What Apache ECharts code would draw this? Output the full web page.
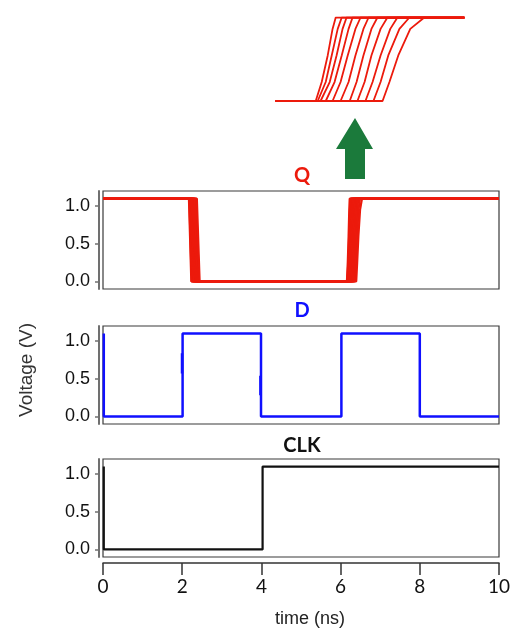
<!DOCTYPE html>
<html><head><meta charset="utf-8">
<script src="https://cdn.jsdelivr.net/npm/echarts@6/dist/echarts.min.js"></script>
<style>html,body{margin:0;padding:0;background:#fff}#c{width:511px;height:628px}</style>
</head><body><div id="c"></div>
<script>
// ---- data ----
const timeTicks = [0, 2, 4, 6, 8, 10];
const voltTicks = [0, 0.5, 1.0];
const panelTitles = ['Q', 'D', 'CLK'];
const axisTitles = ['time (ns)', 'Voltage (V)'];

// Q: Monte-Carlo traces (one entry per trace)
const qHigh = 1.1;
const qLow = 0;
const qFallStart = [2.17, 2.18, 2.20, 2.22, 2.24, 2.26, 2.28, 2.30, 2.32, 2.35, 2.37];
const qFallEnd   = [2.23, 2.24, 2.26, 2.28, 2.30, 2.33, 2.35, 2.37, 2.39, 2.42, 2.44];
const qRiseLevels = [0, 0.25, 0.6, 0.95, 1.1];
const qRiseTimes = [
  [6.160, 6.181, 6.202, 6.219, 6.230],
  [6.167, 6.195, 6.216, 6.237, 6.251],
  [6.177, 6.209, 6.233, 6.254, 6.268],
  [6.195, 6.226, 6.251, 6.275, 6.289],
  [6.219, 6.247, 6.272, 6.299, 6.317],
  [6.247, 6.275, 6.299, 6.327, 6.345],
  [6.279, 6.303, 6.327, 6.355, 6.376],
  [6.306, 6.331, 6.355, 6.387, 6.411],
  [6.334, 6.359, 6.387, 6.421, 6.446],
  [6.362, 6.387, 6.414, 6.453, 6.488],
  [6.394, 6.418, 6.449, 6.491, 6.540]
];
const insetRange = [6.02, 6.68];

// D input
const dTimes  = [0.02, 0.02, 2.01, 2.01, 3.99, 3.99, 6.02, 6.02, 8.00, 8.00, 10];
const dValues = [1.1,  0,    0,    1.1,  1.1,  0,    0,    1.1,  1.1,  0,    0];
const dGlitchTimes = [1.995, 3.975];
const dGlitchLow   = [0.57, 0.28];
const dGlitchHigh  = [0.84, 0.54];

// CLK
const clkTimes  = [0.02, 0.02, 4.03, 4.03, 10];
const clkValues = [1.1,  0,    0,    1.1,  1.1];

// ---- build ----
const RED = '#ec1a0c', BLUE = '#1010ff', BLACK = '#111111';
const zip = (xs, ys) => xs.map((x, i) => [x, ys[i]]);

const series = [];
qRiseTimes.forEach((rt, k) => {
  const rise = zip(rt, qRiseLevels);
  series.push({
    name: 'Q', type: 'line', xAxisIndex: 1, yAxisIndex: 1, symbol: 'none', silent: true,
    lineStyle: { color: RED, width: 2.2 },
    data: [[0, qHigh], [qFallStart[k], qHigh], [qFallEnd[k], qLow]].concat(rise, [[10, qHigh]])
  });
  series.push({
    name: 'Q inset', type: 'line', xAxisIndex: 0, yAxisIndex: 0, symbol: 'none', silent: true,
    lineStyle: { color: RED, width: 1.8 },
    data: [[insetRange[0], qLow]].concat(rise, [[insetRange[1], qHigh]])
  });
});
series.push({
  name: 'D', type: 'line', xAxisIndex: 2, yAxisIndex: 2, symbol: 'none',
  lineStyle: { color: BLUE, width: 2.5 }, data: zip(dTimes, dValues)
});
const glitchData = [];
dGlitchTimes.forEach((t, i) => { glitchData.push([t, dGlitchLow[i]], [t, dGlitchHigh[i]], '-'); });
series.push({
  name: 'D glitch', type: 'line', xAxisIndex: 2, yAxisIndex: 2, symbol: 'none', connectNulls: false,
  lineStyle: { color: BLUE, width: 2.5 }, data: glitchData
});
series.push({
  name: 'CLK', type: 'line', xAxisIndex: 3, yAxisIndex: 3, symbol: 'none',
  lineStyle: { color: BLACK, width: 2.2 }, data: zip(clkTimes, clkValues)
});

const gridTops = [191, 326, 459];
const grids = [{ left: 270, top: 17.5, width: 200, height: 83.5, outerBoundsMode: 'none', containLabel: false }];
gridTops.forEach(t => grids.push({
  left: 103, top: t, width: 396, height: 98, show: true, outerBoundsMode: 'none', containLabel: false,
  borderColor: '#3a3a3a', borderWidth: 1.2, backgroundColor: 'transparent'
}));

const xAxes = [
  { gridIndex: 0, type: 'value', min: insetRange[0] - 0.02, max: insetRange[0] + 0.68, show: false },
  { gridIndex: 1, type: 'value', min: 0, max: 10, show: false },
  { gridIndex: 2, type: 'value', min: 0, max: 10, show: false },
  {
    gridIndex: 3, type: 'value', min: timeTicks[0], max: timeTicks[timeTicks.length - 1], interval: 2, offset: 6,
    axisLine: { onZero: false, lineStyle: { color: '#333', width: 1.5 } },
    axisTick: { length: 12, lineStyle: { color: '#333', width: 1.5 } },
    axisLabel: { margin: 14, fontFamily: 'Lato', fontSize: 19, color: '#111' },
    splitLine: { show: false },
    name: axisTitles[0], nameLocation: 'middle', nameGap: 47,
    nameTextStyle: { fontFamily: 'Liberation Sans', fontSize: 18, color: '#222', padding: [0, 0, 0, 18] }
  }
];
function yAx(gi) {
  return {
    gridIndex: gi, type: 'value', min: -0.1, max: 1.2, offset: 4,
    axisLine: { show: true, onZero: false, lineStyle: { color: '#707070', width: 2 } },
    axisTick: { show: true, length: 4, customValues: voltTicks, lineStyle: { color: '#707070', width: 1.5 } },
    axisLabel: { customValues: voltTicks, formatter: v => v.toFixed(1), margin: 9,
      fontFamily: 'Liberation Sans', fontSize: 18, color: '#111' },
    splitLine: { show: false }
  };
}
const yAxes = [
  { gridIndex: 0, type: 'value', min: 0, max: 1.1, show: false },
  yAx(1), yAx(2), yAx(3)
];
Object.assign(yAxes[2], {
  name: axisTitles[1], nameLocation: 'middle', nameGap: 63,
  nameTextStyle: { fontFamily: 'Liberation Sans', fontSize: 19, color: '#333', padding: [0, 0, 0, 10] }
});

const titleTops = [166, 301, 436];
const titleColors = [RED, BLUE, BLACK];
const titles = panelTitles.map((t, i) => ({
  text: t, left: 302, top: titleTops[i], textAlign: 'center', padding: 0,
  textStyle: { color: titleColors[i], fontFamily: 'Lato', fontWeight: 'bold', fontSize: 20 }
}));

const chart = echarts.init(document.getElementById('c'), null, { renderer: 'canvas' });
chart.setOption({
  animation: false,
  backgroundColor: '#fff',
  title: titles,
  grid: grids,
  xAxis: xAxes,
  yAxis: yAxes,
  series: series,
  graphic: [{
    type: 'polygon', silent: true,
    shape: { points: [[355, 118], [373, 149], [365, 149], [365, 179], [345, 179], [345, 149], [336, 149]] },
    style: { fill: '#1b7a3b' }
  }]
});
</script></body></html>
